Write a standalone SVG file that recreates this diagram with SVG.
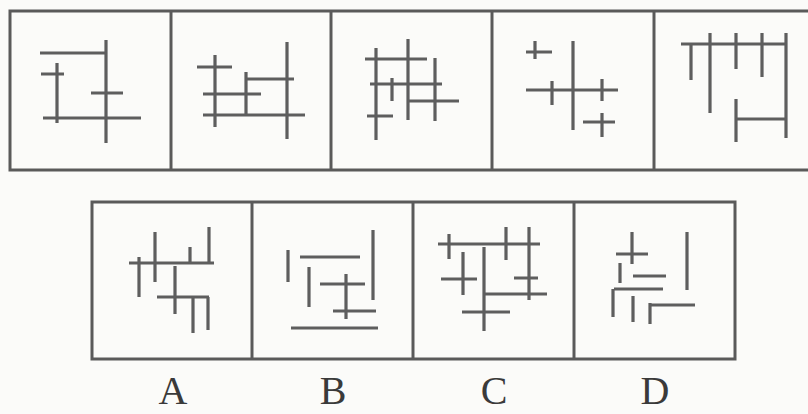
<svg xmlns="http://www.w3.org/2000/svg" width="808" height="414" viewBox="0 0 808 414">
<style>
.f{fill:none;stroke:#5a5a5a;stroke-width:3}
.s{stroke:#5e5e5e;stroke-width:3.2;stroke-linecap:butt;fill:none}
.t{font-family:"Liberation Serif",serif;font-size:40px;fill:#3a3a3a;text-anchor:middle}
</style>
<rect width="808" height="414" fill="#fbfbf9"/>
<g id="frame-top" class="f">
<rect x="10" y="11" width="802" height="159"/>
<line x1="171" y1="11" x2="171" y2="170"/>
<line x1="331" y1="11" x2="331" y2="170"/>
<line x1="492" y1="11" x2="492" y2="170"/>
<line x1="654" y1="11" x2="654" y2="170"/>
</g>
<g id="frame-bottom" class="f">
<rect x="92" y="202" width="643" height="157"/>
<line x1="252" y1="202" x2="252" y2="359"/>
<line x1="413" y1="202" x2="413" y2="359"/>
<line x1="574" y1="202" x2="574" y2="359"/>
</g>
<g id="cell1" class="s">
<path d="M40 53H106M106 40V143M41 74H64M57 63V123M91 93H123M43 118H141"/>
</g>
<g id="cell2" class="s">
<path d="M215 55V127M197 67H232M246 72V115M247 79H294M287 42V139M203 94H261M203 115H305"/>
</g>
<g id="cell3" class="s">
<path d="M365 59H427M376 48V140M408 39V120M435 58V121M370 84H442M392 78V101M409 101H459M367 116H393"/>
</g>
<g id="cell4" class="s">
<path d="M526 52H552M535 41V59M573 41V130M526 90H618M552 81V105M602 79V101M583 122H615M602 113V137"/>
</g>
<g id="cell5" class="s">
<path d="M681 44H787M691 45V80M710 33V113M736 33V69M762 33V77M786 33V138M736 99V142M736 119H786"/>
</g>
<g id="optionA" class="s">
<path d="M155 232V282M139 257V297M129 263H214M190 247V263M209 227V263M175 266V314M157 297H209M193 297V333M208 297V330"/>
</g>
<g id="optionB" class="s">
<path d="M288 250V282M300 257H360M309 267V307M373 230V300M320 284H365M346 274V319M333 311H376M291 328H378"/>
</g>
<g id="optionC" class="s">
<path d="M438 244H540M449 234V259M506 227V260M529 227V300M463 252V295M441 279H477M484 247V331M514 278H538M484 294H547M462 312H510"/>
</g>
<g id="optionD" class="s">
<path d="M632 232V264M616 254H648M620 263V283M633 276H666M687 232V290M614 289H663M613 289V317M633 296V322M650 303V324M650 305H695"/>
</g>
<g id="labels">
<text class="t" x="173" y="404">A</text>
<text class="t" x="333" y="404">B</text>
<text class="t" x="494" y="404">C</text>
<text class="t" x="655" y="404">D</text>
</g>
</svg>
